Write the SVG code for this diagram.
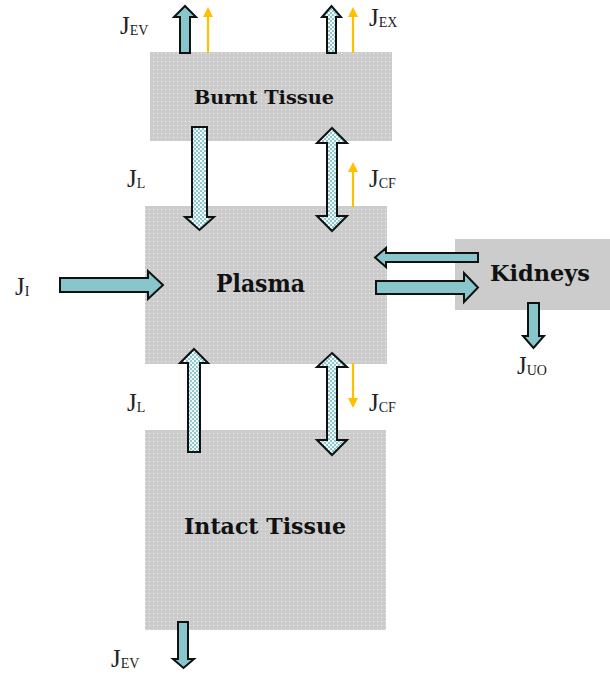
<svg xmlns="http://www.w3.org/2000/svg" width="610" height="674" viewBox="0 0 610 674">
<defs>
<pattern id="boxDots" width="4" height="4" patternUnits="userSpaceOnUse">
<rect width="4" height="4" fill="#cccccc"/>
<rect x="1" y="1" width="1" height="1" fill="#eeeeee"/>
</pattern>
<pattern id="arrDots" width="4" height="4" patternUnits="userSpaceOnUse">
<rect width="4" height="4" fill="#8ccad0"/>
<rect x="0" y="0" width="2" height="2" fill="#ffffff"/>
<rect x="2" y="2" width="2" height="2" fill="#e8f6f7"/>
</pattern>
<marker id="orangeHead" markerWidth="10" markerHeight="10" refX="5" refY="5" orient="auto" markerUnits="userSpaceOnUse">
<path d="M0,0 L10,5 L0,10 Z" fill="#ffc000"/>
</marker>
</defs>
<style>
.box{fill:url(#boxDots);}
.kid{fill:#cccccc;}
.name{font-family:"DejaVu Serif","Liberation Serif",serif;font-weight:bold;fill:#111111;text-anchor:middle;}
.solid{fill:#88c6cc;stroke:#111111;stroke-width:2;stroke-linejoin:miter;}
.dotted{fill:url(#arrDots);stroke:#111111;stroke-width:2;stroke-linejoin:miter;}
.orange{stroke:#ffc000;stroke-width:2.2;fill:none;marker-end:url(#orangeHead);}
.lbl{font-family:"Liberation Serif","DejaVu Serif",serif;font-size:25px;fill:#222222;}
.sub{font-size:14px;}
</style>

<g id="burnt-tissue">
<rect class="box" x="150" y="52" width="242" height="89"/>
<text class="name" x="264" y="104" font-size="19" textLength="140" lengthAdjust="spacingAndGlyphs">Burnt Tissue</text>
</g>
<g id="plasma">
<rect class="box" x="145" y="206" width="242" height="158"/>
<text class="name" x="260.5" y="292" font-size="24" textLength="89" lengthAdjust="spacingAndGlyphs">Plasma</text>
</g>
<g id="intact-tissue">
<rect class="box" x="145" y="430" width="241" height="200"/>
<text class="name" x="265" y="534" font-size="23" textLength="162" lengthAdjust="spacingAndGlyphs">Intact Tissue</text>
</g>
<g id="kidneys">
<rect class="kid" x="455" y="239" width="155" height="71"/>
<text class="name" x="540" y="281" font-size="23" textLength="100" lengthAdjust="spacingAndGlyphs">Kidneys</text>
</g>

<g id="connectors">
<path class="solid" d="M180,53 L180,17 L174,17 L185,6 L196,17 L190,17 L190,53 Z"/>
<line class="orange" x1="208" y1="53" x2="208" y2="12"/>
<path class="dotted" d="M327,53 L327,17 L322,17 L331.5,6 L341,17 L336,17 L336,53 Z"/>
<line class="orange" x1="353" y1="53" x2="353" y2="12"/>
<path class="dotted" d="M192,127 L207,127 L207,217 L214,217 L199.5,230 L185,217 L192,217 Z"/>
<path class="dotted" d="M332,128 L347,143 L337,143 L337,216 L347,216 L332,231 L317,216 L327,216 L327,143 L317,143 Z"/>
<line class="orange" x1="353" y1="207" x2="353" y2="167"/>
<path class="solid" d="M60,278 L148,278 L148,271 L163,285 L148,299 L148,292 L60,292 Z"/>
<path class="solid" d="M478,253 L386,253 L386,248 L375,257.5 L386,267 L386,262 L478,262 Z"/>
<path class="solid" d="M376,281 L464,281 L464,273 L478,287.5 L464,302 L464,294 L376,294 Z"/>
<path class="solid" d="M528,303 L539,303 L539,336 L544,336 L533.5,348 L523,336 L528,336 Z"/>
<path class="dotted" d="M188,452 L188,363 L180,363 L194,349 L208,363 L200,363 L200,452 Z"/>
<path class="dotted" d="M332,353 L347,367 L337,367 L337,440 L347,440 L332,455 L317,440 L327,440 L327,367 L317,367 Z"/>
<line class="orange" x1="353" y1="363" x2="353" y2="403"/>
<path class="solid" d="M178,622 L188,622 L188,659 L194,659 L183.5,668 L173,659 L178,659 Z"/>
</g>

<g id="labels">
<text class="lbl" x="120" y="34">J<tspan class="sub" dy="1">EV</tspan></text>
<text class="lbl" x="369" y="26">J<tspan class="sub" dy="1">EX</tspan></text>
<text class="lbl" x="127" y="187">J<tspan class="sub" dy="1">L</tspan></text>
<text class="lbl" x="369" y="187">J<tspan class="sub" dy="1">CF</tspan></text>
<text class="lbl" x="15" y="295">J<tspan class="sub" dy="1">I</tspan></text>
<text class="lbl" x="517" y="374">J<tspan class="sub" dy="1">UO</tspan></text>
<text class="lbl" x="127" y="411">J<tspan class="sub" dy="1">L</tspan></text>
<text class="lbl" x="369" y="411">J<tspan class="sub" dy="1">CF</tspan></text>
<text class="lbl" x="111" y="667">J<tspan class="sub" dy="1">EV</tspan></text>
</g>
</svg>
